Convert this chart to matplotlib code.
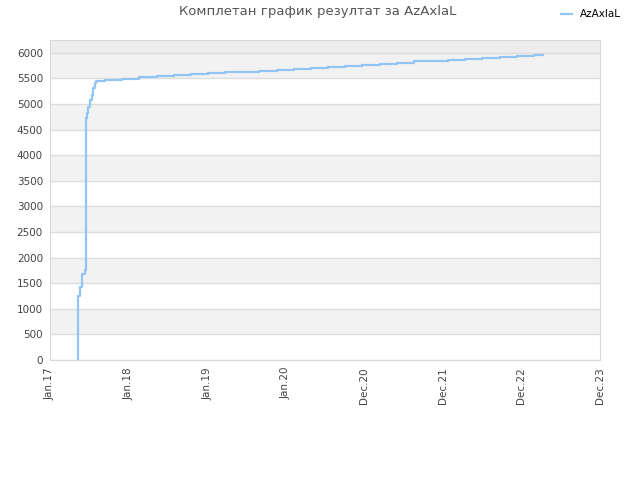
import matplotlib
matplotlib.use("Agg")
import matplotlib.pyplot as plt
import matplotlib.dates as mdates
import numpy as np
import pandas as pd

# cumulative result over time
dates = [
    "2017-05-18", "2017-05-18", "2017-05-20", "2017-05-28", "2017-06-06",
    "2017-06-20", "2017-06-23", "2017-06-28", "2017-07-05", "2017-07-13",
    "2017-07-21", "2017-07-28", "2017-08-05", "2017-08-10", "2017-09-20",
    "2017-12-08", "2018-02-24", "2018-05-18", "2018-08-04", "2018-10-22",
    "2019-01-08", "2019-03-27", "2019-06-14", "2019-08-31", "2019-11-22",
    "2020-02-08", "2020-04-26", "2020-07-14", "2020-09-30", "2020-12-17",
    "2021-03-10", "2021-05-28", "2021-08-14", "2021-10-31", "2022-01-18",
    "2022-04-06", "2022-06-23", "2022-09-14", "2022-12-01", "2023-02-18",
    "2023-03-31",
]
scores = [
    0, 600, 1250, 1420, 1680,
    1760, 4720, 4818, 4948, 5078,
    5175, 5305, 5403, 5449, 5472,
    5495, 5518, 5537, 5560, 5580,
    5600, 5619, 5632, 5650, 5670,
    5692, 5710, 5730, 5750, 5770,
    5790, 5810, 5830, 5848, 5867,
    5886, 5905, 5925, 5945, 5965,
    5965,
]
player = "AzAxlaL"
title = "Комплетан график резултат за AzAxlaL"

x_start = pd.Timestamp("2017-01-10")
x_step_days = 362
n_ticks = 8

line_color = "#92c5f4"
text_color = "#444444"
grid_color = "#dddddd"

fig = plt.figure(figsize=(6.4, 4.8), dpi=100)
ax = fig.add_axes([0.078, 0.25, 0.8595, 0.6667])

# alternating horizontal bands
for lo in range(0, 6000, 500):
    if (lo // 500) % 2 == 1:
        ax.axhspan(lo, lo + 500, color="#f2f2f2", zorder=0, lw=0)
ax.axhspan(6000, 6250, color="#ededed", zorder=0, lw=0)

x = pd.to_datetime(dates)
ax.plot(x, scores, drawstyle="steps-post", color=line_color, lw=1.6,
        label=player, zorder=3)

ticks = [x_start + pd.Timedelta(days=x_step_days * i) for i in range(n_ticks)]
ax.set_xlim(ticks[0], ticks[-1])
ax.set_xticks(ticks)
ax.xaxis.set_major_formatter(mdates.DateFormatter("%b.%y"))
for lbl in ax.get_xticklabels():
    lbl.set_rotation(90)

ax.set_ylim(0, 6250)
ax.set_yticks(np.arange(0, 6001, 500))
ax.yaxis.grid(True, color=grid_color, lw=1, zorder=1)
ax.set_axisbelow(True)

ax.tick_params(length=0, labelsize=7.5, colors=text_color, pad=5)
for side in ax.spines.values():
    side.set_color("#d8d8d8")

fig.text(0.497, 0.975, title, ha="center", va="center", fontsize=9.5,
         color="#555555")
fig.legend(loc="upper right", bbox_to_anchor=(0.985, 1.0), frameon=False,
           fontsize=7.5, handlelength=1.0, handletextpad=0.8)

fig.savefig("out.png", dpi=100)
